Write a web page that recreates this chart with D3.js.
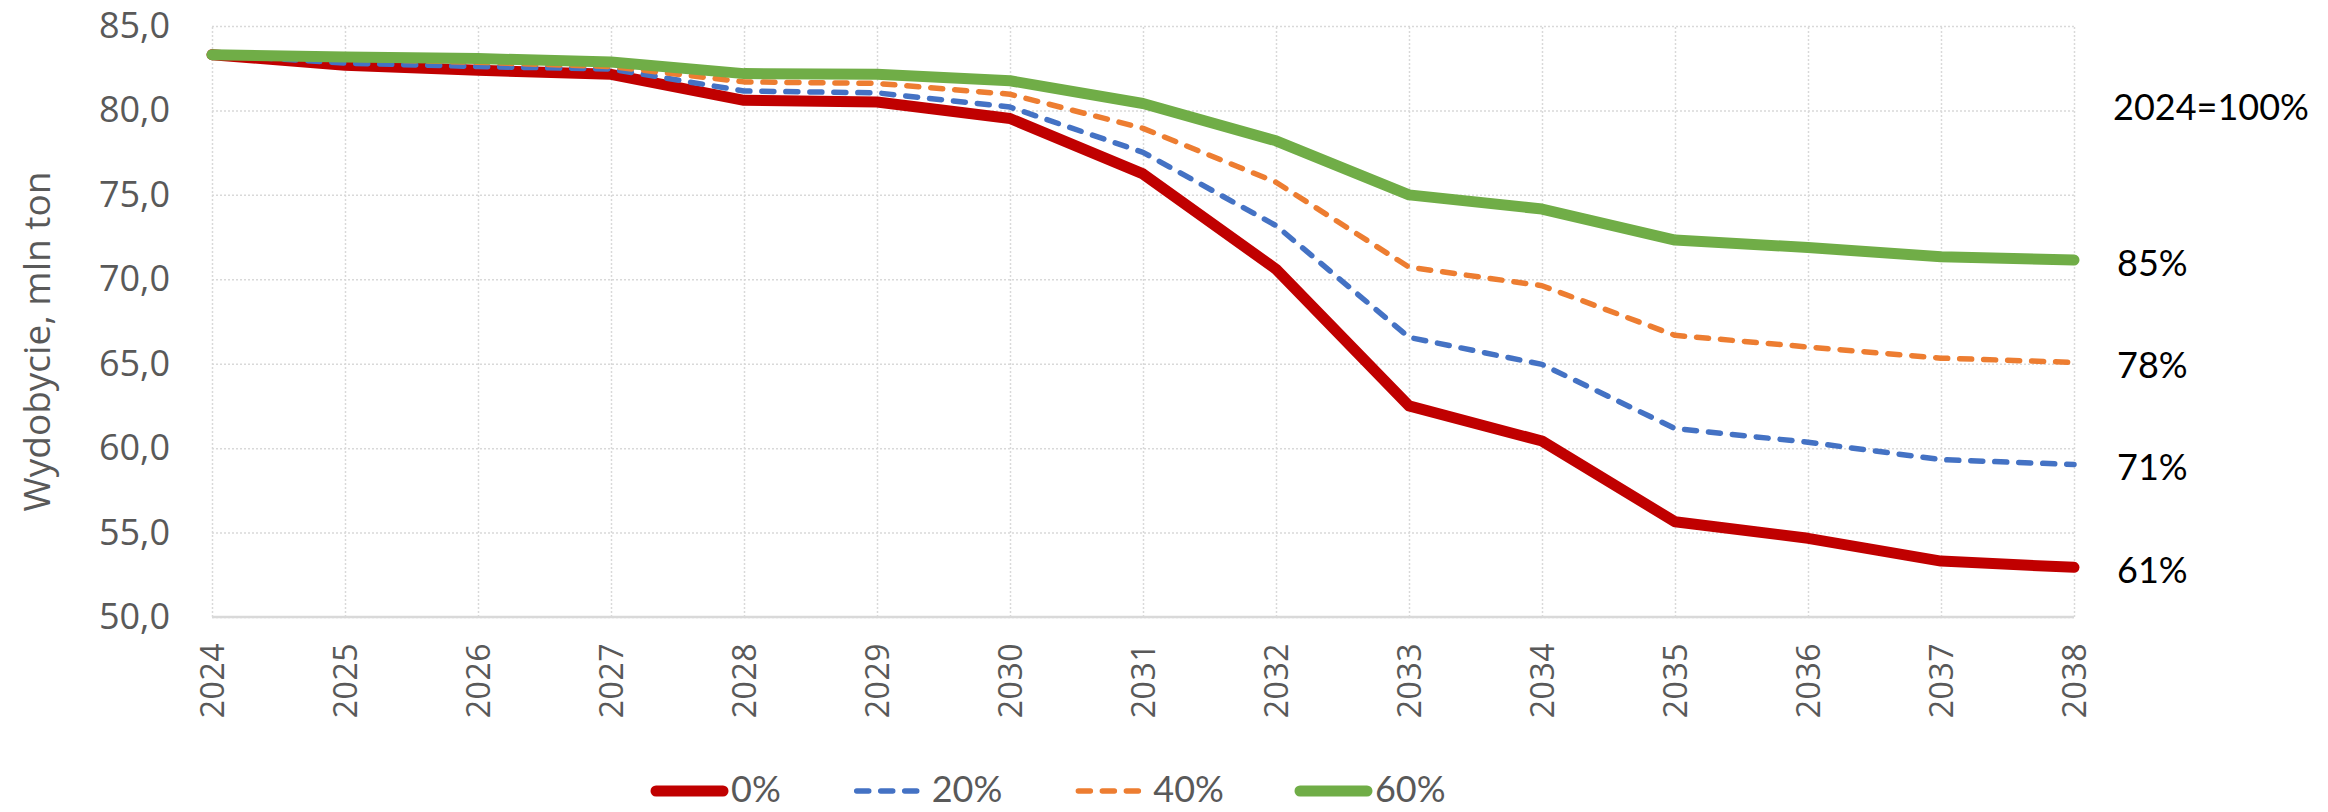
<!DOCTYPE html>
<html>
<head>
<meta charset="utf-8">
<script src="https://cdn.jsdelivr.net/npm/d3@7"></script>
<style>
  body { margin: 0; background: #fff; }
  .grid line { stroke: #d9d9d9; stroke-width: 1.5; stroke-dasharray: 2 2; }
  .grid .domain { display: none; }
  .tick text { fill: #595959; font-family: "Open Sans", sans-serif; }
</style>
</head>
<body>
<div id="chart"></div>
<script>
// data
var years = [2024, 2025, 2026, 2027, 2028, 2029, 2030, 2031, 2032, 2033, 2034, 2035, 2036, 2037, 2038];
var s0  = [83.3, 82.67, 82.38, 82.14, 80.6, 80.5, 79.52, 76.24, 70.6, 62.5, 60.42, 55.64, 54.66, 53.31, 52.94];
var s20 = [83.3, 82.8, 82.6, 82.45, 81.15, 81.04, 80.2, 77.52, 73.18, 66.56, 64.96, 61.16, 60.35, 59.32, 59.03];
var s40 = [83.3, 83.05, 82.85, 82.6, 81.69, 81.6, 80.96, 78.94, 75.75, 70.72, 69.62, 66.68, 65.99, 65.33, 65.08];
var s60 = [83.3, 83.17, 83.07, 82.87, 82.18, 82.14, 81.76, 80.41, 78.2, 75.0, 74.16, 72.32, 71.88, 71.34, 71.14];
var seriesNames = ["0%", "20%", "40%", "60%"];
var endLabels = ["61%", "71%", "78%", "85%"];
var baseLabel = "2024=100%";
var baseLabelValue = 80.2;
var yTicks = [50, 55, 60, 65, 70, 75, 80, 85];

var colors = ["#c00000", "#4472c4", "#ed7d31", "#70ad47"];
var widths = [11, 5.5, 5.5, 11];
var dashes = [null, "12 12", "12 12", null];

// set the dimensions and margins of the graph
var margin = {top: 26, right: 254, bottom: 195, left: 212},
    width = 2328 - margin.left - margin.right,
    height = 812 - margin.top - margin.bottom;

var xScale = d3.scaleLinear().domain([2024, 2038]).range([0, width]);
var yScale = d3.scaleLinear().domain([50, 85]).range([height, 0]);

var svg = d3.select("#chart").append("svg")
    .attr("width", 2328)
    .attr("height", 812);

var g = svg.append("g")
    .attr("transform", "translate(" + margin.left + "," + margin.top + ")");

// gridlines
g.append("g")
    .attr("class", "grid")
    .call(d3.axisLeft(yScale).tickValues(yTicks).tickSize(-width).tickFormat(""));
g.append("g")
    .attr("class", "grid")
    .attr("transform", "translate(0," + height + ")")
    .call(d3.axisBottom(xScale).tickValues(years).tickSize(-height).tickFormat(""));

// x axis line
g.append("line")
    .attr("x1", 0).attr("x2", width)
    .attr("y1", height).attr("y2", height)
    .attr("stroke", "#d9d9d9").attr("stroke-width", 2.5);

// y axis labels
var yAxis = g.append("g")
    .call(d3.axisLeft(yScale).tickValues(yTicks).tickSize(0).tickPadding(42)
      .tickFormat(function(d) { return d.toFixed(1).replace(".", ","); }));
yAxis.select(".domain").remove();
yAxis.selectAll("text").style("font-size", "36px");

// x axis labels
var xAxis = g.append("g")
    .attr("transform", "translate(0," + height + ")")
    .call(d3.axisBottom(xScale).tickValues(years).tickSize(0).tickFormat(d3.format("d")));
xAxis.select(".domain").remove();
xAxis.selectAll("text")
    .style("font-size", "32px")
    .style("letter-spacing", "0.5px")
    .style("text-anchor", "end")
    .attr("transform", "rotate(-90)")
    .attr("x", -26)
    .attr("y", 0)
    .attr("dy", "0.35em");

// y axis title
svg.append("text")
    .attr("transform", "translate(37," + (margin.top + height / 2 + 20) + ") rotate(-90)")
    .attr("text-anchor", "middle")
    .attr("dy", "0.35em")
    .style("font-family", "'Open Sans', sans-serif")
    .style("font-size", "37px")
    .style("fill", "#595959")
    .text("Wydobycie, mln ton");

// lines
var valueline = d3.line()
    .x(function(d, i) { return xScale(years[i]); })
    .y(function(d) { return yScale(d); });

var allSeries = [s0, s20, s40, s60];
allSeries.forEach(function(s, i) {
  g.append("path")
      .datum(s)
      .attr("fill", "none")
      .attr("stroke", colors[i])
      .attr("stroke-width", widths[i])
      .attr("stroke-linejoin", "round")
      .attr("stroke-linecap", "round")
      .attr("stroke-dasharray", dashes[i])
      .attr("d", valueline);
});

// right labels
var labelX = width + 39;
g.append("text")
    .attr("x", labelX)
    .attr("y", yScale(baseLabelValue))
    .attr("dy", "0.35em")
    .style("font-family", "Lato, sans-serif")
    .style("font-size", "36px")
    .style("fill", "#000")
    .text(baseLabel);
allSeries.forEach(function(s, i) {
  g.append("text")
      .attr("x", labelX + 4)
      .attr("y", yScale(s[s.length - 1]) + 3)
      .attr("dy", "0.35em")
      .style("font-family", "Lato, sans-serif")
      .style("font-size", "36px")
      .style("fill", "#000")
      .text(endLabels[i]);
});

// legend
var legend = svg.append("g").attr("transform", "translate(0,791)");
var tx = 731;
seriesNames.forEach(function(name, i) {
  var item = legend.append("g");
  var x0 = tx - 75;
  item.append("line")
      .attr("x1", x0)
      .attr("x2", dashes[i] ? x0 + 60 : tx - 8)
      .attr("y1", 0).attr("y2", 0)
      .attr("stroke", colors[i])
      .attr("stroke-width", widths[i])
      .attr("stroke-linecap", "round")
      .attr("stroke-dasharray", dashes[i]);
  var t = item.append("text")
      .attr("x", tx)
      .attr("y", 0)
      .attr("dy", "0.3em")
      .style("font-family", "Lato, sans-serif")
      .style("font-size", "36px")
      .style("fill", "#595959")
      .text(name);
  tx += t.node().getComputedTextLength() + 151;
});
</script>
</body>
</html>
